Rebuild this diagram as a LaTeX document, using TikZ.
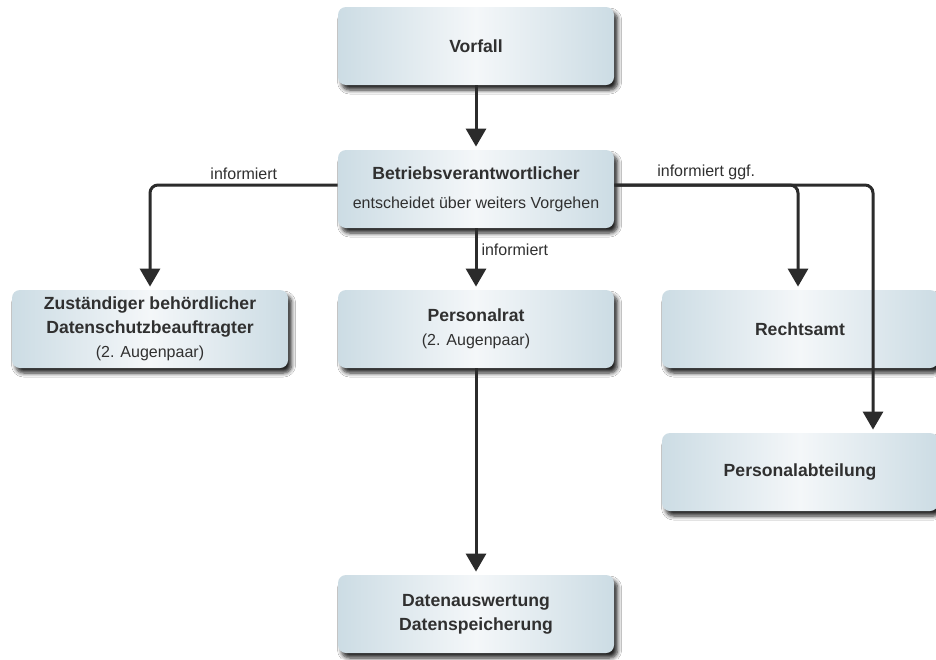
\documentclass[tikz,border=0pt]{standalone}
\usepackage{fontspec}
\setmainfont{Liberation Sans}
\usetikzlibrary{arrows.meta,shadows.blur}
\definecolor{boxEdge}{HTML}{CCDCE4}
\definecolor{boxMid}{HTML}{F4F7F9}
\definecolor{lineDark}{HTML}{2B2B2B}
\definecolor{textDark}{HTML}{303030}
\newcommand{\boxhead}[1]{{\fontsize{8.8}{12}\selectfont\bfseries #1}}
\tikzset{
  stepbox/.style={rounded corners=4pt, minimum width=138pt, minimum height=39pt,
    left color=boxEdge, right color=boxEdge, middle color=boxMid,
    blur shadow={shadow xshift=1.8pt, shadow yshift=-2.5pt, shadow blur radius=2pt,
      shadow blur steps=6, shadow opacity=85},
    align=center, text=textDark, font=\fontsize{8}{12}\selectfont},
  flow/.style={-{Triangle[width=10pt,length=9pt]}, line width=1.5pt, draw=lineDark,
    rounded corners=4pt, shorten >=1.5pt},
  note/.style={text=textDark, font=\fontsize{8}{10}\selectfont, inner sep=2pt}
}
\begin{document}
\begin{tikzpicture}[x=0.5pt,y=-0.5pt]
\useasboundingbox[fill=white] (0,0) rectangle (936,659);
% boxes
\node[stepbox] (vorfall) at (476,46) {\boxhead{Vorfall}};
\node[stepbox] (betr) at (476,189) {\boxhead{Betriebsverantwortlicher}\\[2.5pt]entscheidet über weiters Vorgehen};
\node[stepbox] (zust) at (150,329) {\boxhead{Zuständiger behördlicher}\\\boxhead{Datenschutzbeauftragter}\\(2. Augenpaar)};
\node[stepbox] (prat) at (476,329) {\boxhead{Personalrat}\\(2. Augenpaar)};
\node[stepbox] (ramt) at (800,329) {\boxhead{Rechtsamt}};
\node[stepbox] (pabt) at (800,472) {\boxhead{Personalabteilung}};
\node[stepbox] (daten) at (476,614) {\boxhead{Datenauswertung}\\\boxhead{Datenspeicherung}};
% connectors
\coordinate (pturn) at (873,185);
\draw[flow] (vorfall) -- (betr);
\draw[flow] (betr.south) -- node[note, right, pos=0.35]{informiert} (prat.north);
\draw[flow] ([yshift=2pt]betr.west) -| node[note, above, pos=0.25]{informiert} (zust.north);
\draw[flow] ([yshift=2pt]betr.east) -| node[note, above, pos=0.25]{informiert ggf.} ([xshift=-1pt]ramt.north);
\draw[flow] ([yshift=2pt]betr.east) -| (pturn |- pabt.north);
\draw[flow] (prat) -- (daten);
\end{tikzpicture}
\end{document}
